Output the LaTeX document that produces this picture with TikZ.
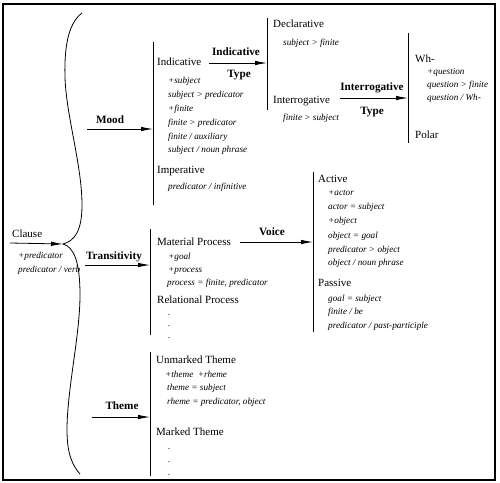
\documentclass[tikz,border=0pt]{standalone}
\usepackage{fontspec}
\setmainfont{Liberation Serif}
\usetikzlibrary{arrows.meta}

\begin{document}
\begin{tikzpicture}[x=1pt,y=-1pt]

    \tikzset{
    % class names, their features and the system labels
    cls/.style={anchor=west, inner sep=0pt, font=\fontsize{11}{13}\selectfont, text height=7.6pt, text depth=2.2pt},
    feat/.style={anchor=west, inner sep=0pt, font=\fontsize{9.2}{11}\selectfont\itshape, text height=6.3pt, text depth=1.9pt},
    sys/.style={inner sep=0pt, font=\fontsize{11.2}{13}\selectfont\bfseries, text height=7.6pt, text depth=2.2pt},
    % system arrows, the bars they point at, the big brace
    arr/.style={-{Latex[length=12pt,width=4.5pt]}, line width=0.8pt},
    bar/.style={line width=0.9pt},
    brace/.style={line width=0.8pt}
    }

    \useasboundingbox (0,0) rectangle (500,482);
    \draw[line width=1.2pt] (3,4) rectangle (495,480);

    % Clause and the brace
    \node at (12,235)[cls](clause){Clause};
    \node at (18,256)[feat](clf1){+predicator};
    \node at (18,270)[feat](clf2){predicator / verb};
    \coordinate (clauseS) at (10,243);
    \coordinate (tip) at (63,244);
    \draw[arr] (clauseS) -- (tip);
    \draw[brace] (82,13) .. controls (70,22) and (64,42) .. (65,77)
        .. controls (66,115) and (82,165) .. (82,205)
        .. controls (82,232) and (74,241) .. (tip)
        .. controls (74,247) and (80,262) .. (80,295)
        .. controls (80,335) and (67,390) .. (67,430)
        .. controls (67,455) and (73,466) .. (80,474);

    % Mood
    \coordinate (moodtop) at (153,42);
    \coordinate (moodbot) at (153,205);
    \coordinate (moodS) at (87,129);
    \draw[bar] (moodtop) -- (moodbot);
    \draw[arr] (moodS) -- (moodS -| moodtop);
    \node at (110,121)[sys](mood){Mood};

    \node at (157,63)[cls](indic){Indicative};
    \node at (168,81)[feat](inf1){+subject};
    \node at (168,95)[feat](inf2){subject > predicator};
    \node at (168,109)[feat](inf3){+finite};
    \node at (168,123)[feat](inf4){finite > predicator};
    \node at (168,137)[feat](inf5){finite / auxiliary};
    \node at (168,150)[feat](inf6){subject / noun phrase};
    \node at (157,171)[cls](imper){Imperative};
    \node at (168,187)[feat](imf1){predicator / infinitive};

    % Indicative Type
    \coordinate (indtop) at (267,18);
    \coordinate (indbot) at (267,110);
    \coordinate (indS) at (209,63);
    \draw[bar] (indtop) -- (indbot);
    \draw[arr] (indS) -- (indS -| indtop);
    \node at (236,53)[sys](indtype1){Indicative};
    \node at (239,75)[sys](indtype2){Type};

    \node at (273,25)[cls](decl){Declarative};
    \node at (283,43)[feat](def1){subject > finite};
    \node at (273,101)[cls](inter){Interrogative};
    \node at (283,118)[feat](itf1){finite > subject};

    % Interrogative Type
    \coordinate (whtop) at (408,33);
    \coordinate (whbot) at (408,143);
    \coordinate (intS) at (340,98);
    \draw[bar] (whtop) -- (whbot);
    \draw[arr] (intS) -- (intS -| whtop);
    \node at (372,88)[sys](inttype1){Interrogative};
    \node at (372,112)[sys](inttype2){Type};

    \node at (415,60)[cls](wh){Wh-};
    \node at (427,72)[feat](whf1){+question};
    \node at (427,85)[feat](whf2){question > finite};
    \node at (427,98)[feat](whf3){question / Wh-};
    \node at (415,136)[cls](polar){Polar};

    % Transitivity
    \coordinate (trtop) at (150,229);
    \coordinate (trbot) at (150,335);
    \coordinate (trS) at (85,265);
    \draw[bar] (trtop) -- (trbot);
    \draw[arr] (trS) -- (trS -| trtop);
    \node at (114,257)[sys](trans){Transitivity};

    \node at (157,243)[cls](matpr){Material Process};
    \node at (168,257)[feat](maf1){+goal};
    \node at (168,270)[feat](maf2){+process};
    \node at (167,283)[feat](maf3){process = finite, predicator};
    \node at (157,301)[cls](relpr){Relational Process};
    \node at (168,313)[feat](redot1){.};
    \node at (168,324)[feat](redot2){.};
    \node at (168,336)[feat](redot3){.};

    % Voice
    \coordinate (votop) at (313,172);
    \coordinate (vobot) at (313,332);
    \coordinate (voS) at (240,242);
    \draw[bar] (votop) -- (vobot);
    \draw[arr] (voS) -- (voS -| votop);
    \node at (272,233)[sys](voice){Voice};

    \node at (318,180)[cls](active){Active};
    \node at (328,193)[feat](acf1){+actor};
    \node at (328,207)[feat](acf2){actor = subject};
    \node at (328,221)[feat](acf3){+object};
    \node at (328,236)[feat](acf4){object = goal};
    \node at (328,250)[feat](acf5){predicator > object};
    \node at (328,263)[feat](acf6){object / noun phrase};
    \node at (318,284)[cls](passive){Passive};
    \node at (328,299)[feat](paf1){goal = subject};
    \node at (328,312)[feat](paf2){finite / be};
    \node at (328,326)[feat](paf3){predicator / past-participle};

    % Theme
    \coordinate (thtop) at (150,352);
    \coordinate (thbot) at (150,476);
    \coordinate (thS) at (92,417);
    \draw[bar] (thtop) -- (thbot);
    \draw[arr] (thS) -- (thS -| thtop);
    \node at (122,407)[sys](theme){Theme};

    \node at (156,361)[cls](unmark){Unmarked Theme};
    \node at (165,375)[feat](unf1){+theme\enspace +rheme};
    \node at (167,388)[feat](unf2){theme = subject};
    \node at (167,402)[feat](unf3){rheme = predicator, object};
    \node at (156,433)[cls](mark){Marked Theme};
    \node at (168,447)[feat](mdot1){.};
    \node at (168,460)[feat](mdot2){.};
    \node at (168,473)[feat](mdot3){.};

\end{tikzpicture}
\end{document}
